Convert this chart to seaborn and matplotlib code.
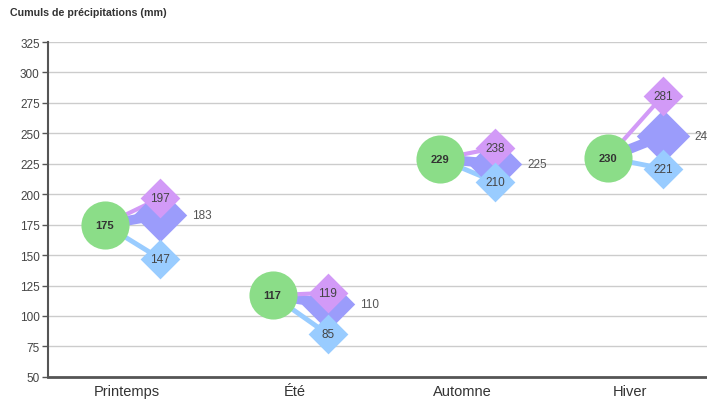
import matplotlib
matplotlib.use("Agg")
import matplotlib.pyplot as plt
import seaborn as sns
import numpy as np
import pandas as pd


saisons  = ["Printemps", "Été", "Automne", "Hiver"]
observe  = [175, 117, 229, 230]
maximum  = [197, 119, 238, 281]
moyenne  = [183, 110, 225, 248]
minimum  = [147, 85, 210, 221]
y_ticks  = list(range(50, 326, 25))

VERT   = "#8bdd88"
VIOLET = "#d29af7"
MAUVE  = "#9b9cfb"
BLEU   = "#99ccff"

sns.set_theme(style="white")
plt.rcParams["font.family"] = ["Liberation Sans", "DejaVu Sans"]

df = pd.DataFrame({"saison": saisons, "observe": observe, "max": maximum,
                   "moy": moyenne, "min": minimum})
pos = np.arange(len(saisons))
x_obs = pos - 0.13
x_dia = pos + 0.20

fig = plt.figure(figsize=(7.07, 4.02), dpi=100)
# l'axe déborde un peu à droite de la figure, comme l'original
ax = fig.add_axes([0.068, 0.06, 0.948, 0.833])

# lignes entre le cercle et les losanges
for i in range(len(saisons)):
    ax.plot([x_obs[i], x_dia[i]], [df["observe"][i], df["moy"][i]], color=MAUVE, lw=7, zorder=2,
            solid_capstyle="butt")
    ax.plot([x_obs[i], x_dia[i]], [df["observe"][i], df["max"][i]], color=VIOLET, lw=3, zorder=2,
            solid_capstyle="butt")
    ax.plot([x_obs[i], x_dia[i]], [df["observe"][i], df["min"][i]], color=BLEU, lw=3.5, zorder=2,
            solid_capstyle="butt")

sns.scatterplot(x=x_dia, y=df["moy"], marker="D", s=740, color=MAUVE, linewidth=0, ax=ax, zorder=3)
sns.scatterplot(x=x_dia, y=df["max"], marker="D", s=410, color=VIOLET, linewidth=0, ax=ax, zorder=4)
sns.scatterplot(x=x_dia, y=df["min"], marker="D", s=410, color=BLEU, linewidth=0, ax=ax, zorder=5)
sns.scatterplot(x=x_obs, y=df["observe"], marker="o", s=1200, color=VERT, linewidth=0, ax=ax, zorder=6)

for i in range(len(saisons)):
    ax.text(x_obs[i], df["observe"][i], str(df["observe"][i]), ha="center", va="center",
            fontsize=8, fontweight="bold", color="#333333", zorder=7)
    ax.text(x_dia[i], df["max"][i], str(df["max"][i]), ha="center", va="center",
            fontsize=8.5, color="#444444", zorder=7)
    ax.text(x_dia[i], df["min"][i], str(df["min"][i]), ha="center", va="center",
            fontsize=8.5, color="#444444", zorder=7)
    ax.text(x_dia[i] + 0.19, df["moy"][i], str(df["moy"][i]), ha="left", va="center",
            fontsize=8.5, color="#555555", zorder=7)

ax.set_xlim(-0.47, 3.53)
ax.set_ylim(50, 325)
ax.set_xticks(pos)
ax.set_xticklabels(saisons, fontsize=10.5, color="#333333")
ax.set_yticks(y_ticks)
ax.set_yticklabels([str(t) for t in y_ticks], fontsize=8.5, color="#444444")
ax.tick_params(axis="x", length=0, pad=5)
ax.tick_params(axis="y", length=4, width=1, color="#555555", pad=2, left=True)
ax.yaxis.grid(True, color="#cccccc", lw=1)
ax.set_axisbelow(True)
ax.set_xlabel("")
ax.set_ylabel("")
for s in ["top", "right"]:
    ax.spines[s].set_visible(False)
ax.spines["left"].set_color("#555555")
ax.spines["left"].set_linewidth(1.5)
ax.spines["bottom"].set_color("#555555")
ax.spines["bottom"].set_linewidth(2)

fig.text(10 / 707, 1 - 13 / 402, "Cumuls de précipitations (mm)", fontsize=7.7,
         fontweight="bold", color="#333333", va="center", ha="left")

fig.savefig("out.png", dpi=100)
